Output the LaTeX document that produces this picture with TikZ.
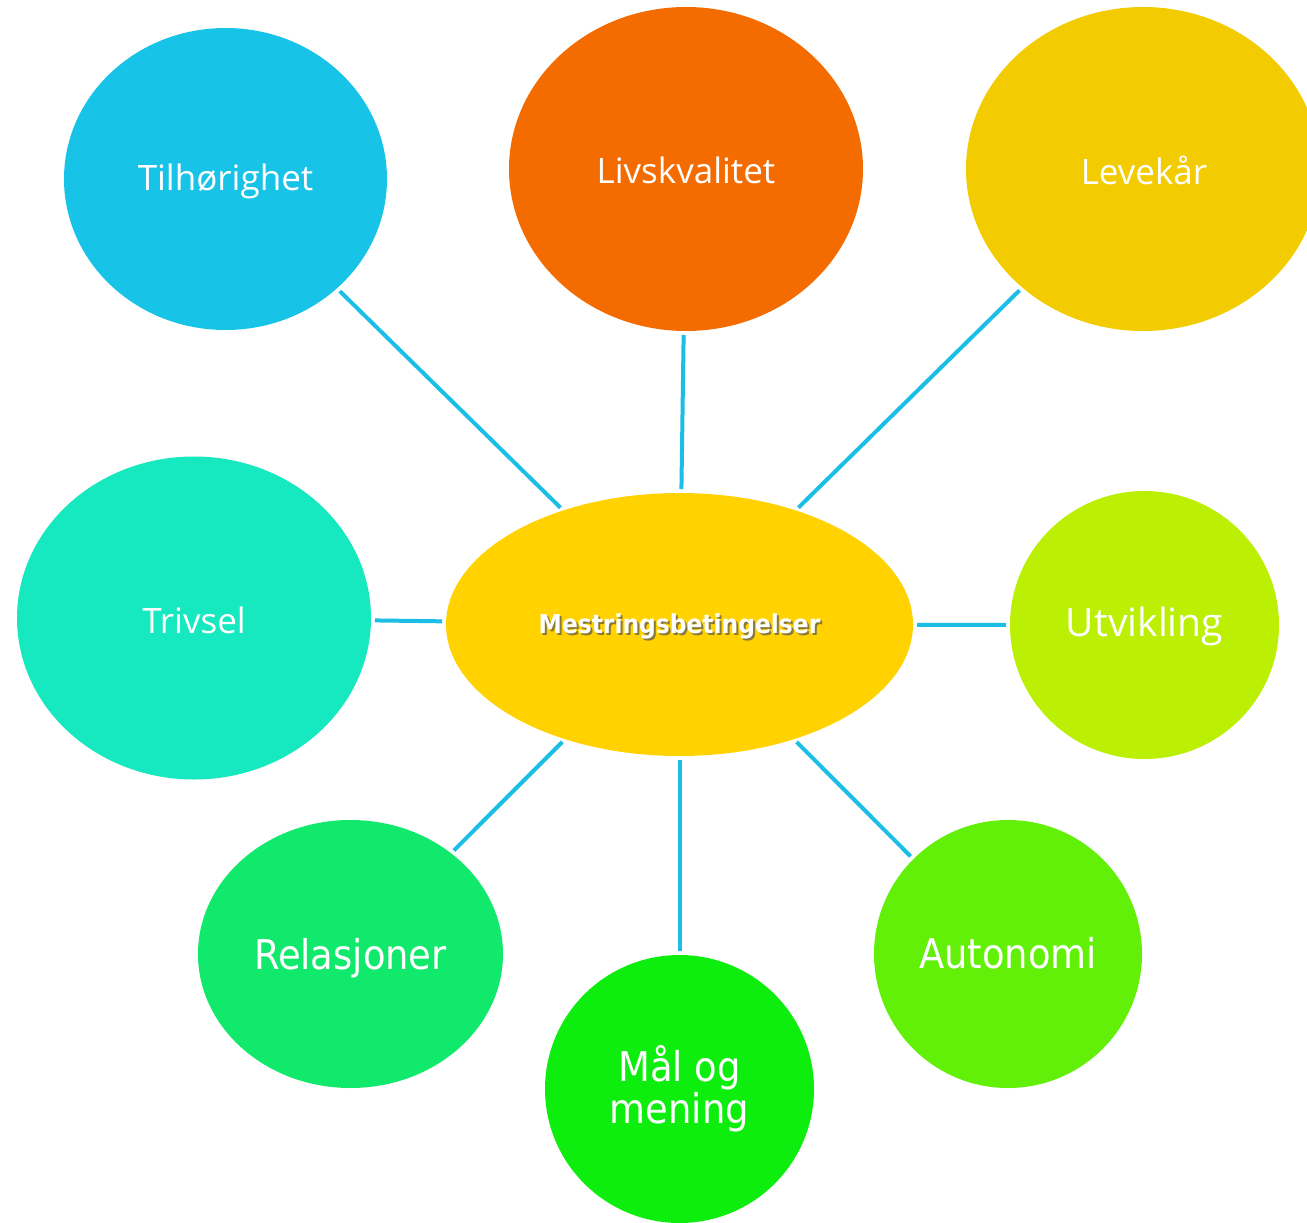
\documentclass[tikz,border=0pt]{standalone}
\usepackage{fontspec}
\setmainfont{Open Sans}
\newfontfamily\tahomalike{DejaVu Sans Condensed}
\usetikzlibrary{shapes.geometric}
\definecolor{cLine}{HTML}{1BBFE6}
\definecolor{cTil}{HTML}{18C3E8}
\definecolor{cLiv}{HTML}{F46B00}
\definecolor{cLev}{HTML}{F2CC00}
\definecolor{cTri}{HTML}{16E8C0}
\definecolor{cCtr}{HTML}{FFD200}
\definecolor{cUtv}{HTML}{BBF005}
\definecolor{cRel}{HTML}{10E96B}
\definecolor{cMal}{HTML}{0EEE0E}
\definecolor{cAut}{HTML}{62EF08}
\definecolor{cShadow}{HTML}{8A7A3A}
\tikzset{
  bub/.style={ellipse, draw=none, inner sep=0pt, outer sep=0pt, text=white, align=center},
  segoe/.style={font=\fontsize{35}{38}\selectfont},
  segoebig/.style={font=\fontsize{39}{40}\selectfont},
  taho/.style={font=\tahomalike\fontsize{41}{42}\selectfont},
  conn/.style={draw=cLine, line width=4pt, shorten <=4pt, shorten >=4pt},
  lbl/.style={inner sep=0pt, outer sep=0pt}
}
\begin{document}
\begin{tikzpicture}[x=1pt,y=-1pt]
\useasboundingbox (0,0) rectangle (1307,1223);
\clip (0,0) rectangle (1307,1223);
\node[bub, fill=cTil, minimum width=323pt, minimum height=302pt] (til) at (225.5,179) {};
\node[lbl, text=white, segoe] (tiltxt) at (225.5,181) {Tilhørighet};
\node[bub, fill=cLiv, minimum width=354pt, minimum height=324pt] (liv) at (686,169) {};
\node[lbl, text=white, segoe] (livtxt) at (686,170) {Livskvalitet};
\node[bub, fill=cLev, minimum width=354pt, minimum height=324pt] (lev) at (1143,169) {};
\node[lbl, text=white, segoe] (levtxt) at (1144,170) {Levekår};
\node[bub, fill=cTri, minimum width=354pt, minimum height=323pt] (tri) at (194,618) {};
\node[lbl, text=white, segoe] (tritxt) at (194,620) {Trivsel};
\node[bub, fill=cCtr, minimum width=467pt, minimum height=263pt] (ctr) at (679.5,624.5) {};
\node[lbl, text=cShadow, font=\tahomalike\bfseries\fontsize{26}{28}\selectfont] (ctrsh) at (681.5,628.5) {Mestringsbetingelser};
\node[lbl, text=white, font=\tahomalike\bfseries\fontsize{26}{28}\selectfont] (ctrtxt) at (679.5,626.5) {Mestringsbetingelser};
\node[bub, fill=cUtv, minimum width=269pt, minimum height=268pt] (utv) at (1144.5,625) {};
\node[lbl, text=white, segoebig] (utvtxt) at (1144.5,626) {Utvikling};
\node[bub, fill=cRel, minimum width=305pt, minimum height=268pt] (rel) at (350.5,954) {};
\node[lbl, text=white, taho] (reltxt) at (350.5,958) {Relasjoner};
\node[bub, fill=cMal, minimum width=269pt, minimum height=268pt, taho] (mal) at (679.5,1089) {Mål og\\mening};
\node[bub, fill=cAut, minimum width=268pt, minimum height=268pt] (aut) at (1008,954) {};
\node[lbl, text=white, taho] (auttxt) at (1008,953) {Autonomi};
\draw[conn] (til) -- (ctr);
\draw[conn] (liv) -- (ctr);
\draw[conn] (lev) -- (ctr);
\draw[conn] (tri) -- (ctr);
\draw[conn] (utv) -- (ctr);
\draw[conn] (rel) -- (ctr);
\draw[conn] (mal) -- (ctr);
\draw[conn] (aut) -- (ctr);
\end{tikzpicture}
\end{document}
